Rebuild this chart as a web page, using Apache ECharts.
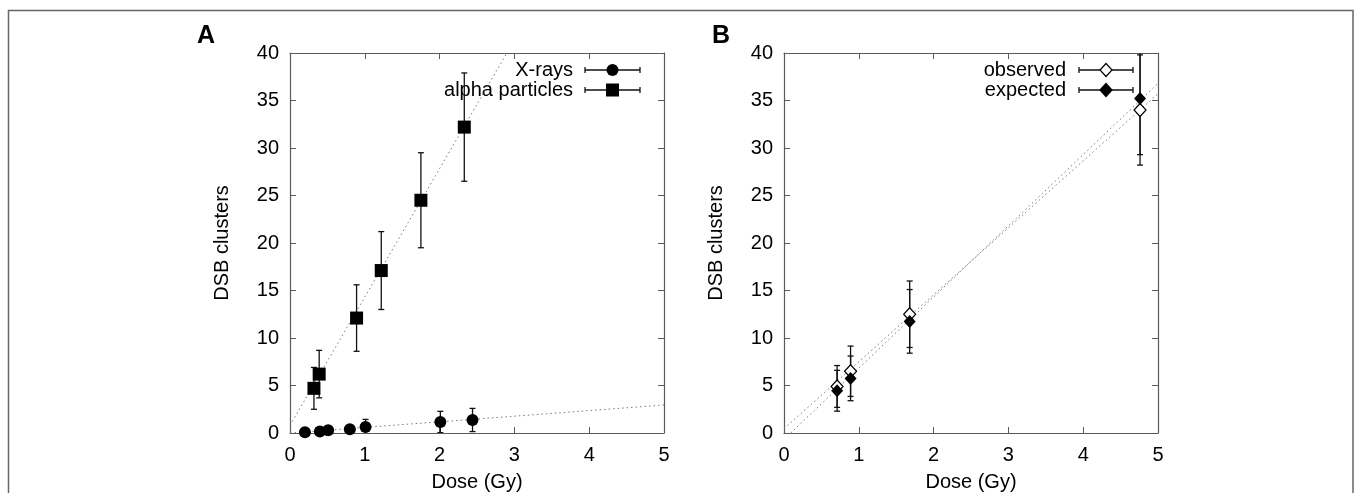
<!DOCTYPE html>
<html lang="en">
<head>
    <meta charset="UTF-8">
    <title>DSB clusters vs dose</title>
    <script src="https://cdn.jsdelivr.net/npm/echarts@6/dist/echarts.min.js"></script>
    <style>
        html, body { margin: 0; padding: 0; background: #fff; }
    </style>
</head>
<body>
    <div id="dv" style="width:1356px;height:493px;"></div>
</body>
<script>
   var myChart = echarts.init(document.getElementById('dv'))

   // panel A - X-rays
   let xrayDose = [0.2, 0.4, 0.51, 0.8, 1.01, 2.01, 2.44];
   let xrayDsb  = [0.08, 0.15, 0.28, 0.39, 0.63, 1.16, 1.37];
   let xrayErr  = [0.1, 0.15, 0.2, 0.3, 0.8, 1.12, 1.22];
   // panel A - alpha particles
   let alphaDose = [0.32, 0.39, 0.89, 1.22, 1.75, 2.33];
   let alphaDsb  = [4.7, 6.2, 12.1, 17.1, 24.5, 32.2];
   let alphaErr  = [2.2, 2.5, 3.5, 4.1, 5.0, 5.7];
   // panel B
   let obsDose = [0.71, 0.89, 1.68, 4.76];
   let obsDsb  = [4.9, 6.5, 12.5, 34.0];
   let obsErr  = [2.2, 2.65, 3.5, 5.8];
   let expDose = [0.71, 0.89, 1.68, 4.76];
   let expDsb  = [4.45, 5.75, 11.75, 35.2];
   let expErr  = [2.15, 2.35, 3.35, 5.9];
   // fitted lines (end points)
   let xrayFit  = [[0, 0.0], [5, 2.95]];
   let alphaFit = [[0, 0.8], [2.9, 40]];
   let obsFit   = [[0.09, 0], [5, 36.8]];
   let expFit   = [[0, 0.45], [5, 35.7]];

   let font = 'Liberation Sans';
   let fs = 20;
   let frame = '#5a5a5a';
   let ink = '#000';

   function pts(xs, ys, es) {
       return xs.map((x, i) => es ? [x, ys[i], es[i]] : [x, ys[i]]);
   }

   function errorBars(params, api) {
       let x = api.value(0), y = api.value(1), e = api.value(2);
       let t = api.coord([x, y + e]);
       let b = api.coord([x, y - e]);
       let w = 3;
       let st = { stroke: '#111', lineWidth: 1.3 };
       return {
           type: 'group',
           children: [
               { type: 'line', shape: { x1: t[0], y1: t[1], x2: b[0], y2: b[1] }, style: st },
               { type: 'line', shape: { x1: t[0] - w, y1: t[1], x2: t[0] + w, y2: t[1] }, style: st },
               { type: 'line', shape: { x1: b[0] - w, y1: b[1], x2: b[0] + w, y2: b[1] }, style: st }
           ]
       };
   }

   function xAx(gi, top) {
       return {
           type: 'value', gridIndex: gi, min: 0, max: 5, interval: 1,
           position: top ? 'top' : 'bottom',
           name: top ? '' : 'Dose (Gy)', nameLocation: 'middle', nameGap: 39,
           nameTextStyle: { fontFamily: font, fontSize: fs, color: ink },
           axisLine: { show: true, onZero: false, lineStyle: { color: frame, width: 1.2 } },
           axisTick: { show: true, inside: true, length: 6, lineStyle: { color: frame } },
           axisLabel: { show: !top, margin: 12, fontFamily: font, fontSize: fs, color: ink },
           splitLine: { show: false }
       };
   }
   function yAx(gi, right) {
       return {
           type: 'value', gridIndex: gi, min: 0, max: 40, interval: 5,
           position: right ? 'right' : 'left',
           name: right ? '' : 'DSB clusters', nameLocation: 'middle', nameGap: 58, nameRotate: 90,
           nameTextStyle: { fontFamily: font, fontSize: fs, color: ink },
           axisLine: { show: true, onZero: false, lineStyle: { color: frame, width: 1.2 } },
           axisTick: { show: true, inside: true, length: 6, lineStyle: { color: frame } },
           axisLabel: { show: !right, margin: 11, fontFamily: font, fontSize: fs, color: ink },
           splitLine: { show: false }
       };
   }

   let dotted = { color: '#7a7a7a', width: 1, type: [1.5, 3] };

   function fitLine(data, ai) {
       return {
           type: 'line', xAxisIndex: ai, yAxisIndex: ai, data: data,
           symbol: 'none', silent: true, lineStyle: dotted, z: 1
       };
   }
   function bars(data, ai) {
       return {
           type: 'custom', xAxisIndex: ai, yAxisIndex: ai, data: data,
           renderItem: errorBars, clip: true, silent: true, z: 2
       };
   }

   // legend sample: error bar line with caps and a marker in the middle
   function legendRow(tx, x1, x2, y, text, marker) {
       let st = { stroke: '#111', lineWidth: 1.3 };
       let mx = (x1 + x2) / 2;
       return [
           { type: 'text', x: tx, y: y, style: { text: text, fontFamily: font, fontSize: fs, fill: ink, align: 'right', verticalAlign: 'middle' } },
           { type: 'line', shape: { x1: x1, y1: y, x2: x2, y2: y }, style: st },
           { type: 'line', shape: { x1: x1, y1: y - 3, x2: x1, y2: y + 3 }, style: st },
           { type: 'line', shape: { x1: x2, y1: y - 3, x2: x2, y2: y + 3 }, style: st },
           Object.assign({ z: 10 }, marker(mx, y))
       ];
   }
   let circleM = (x, y) => ({ type: 'circle', shape: { cx: x, cy: y, r: 6 }, style: { fill: ink } });
   let squareM = (x, y) => ({ type: 'rect', shape: { x: x - 6.5, y: y - 6.5, width: 13, height: 13 }, style: { fill: ink } });
   let diamondM = (fill) => (x, y) => ({
       type: 'polygon', shape: { points: [[x, y - 6.5], [x + 6, y], [x, y + 6.5], [x - 6, y]] },
       style: { fill: fill, stroke: ink, lineWidth: 1.2 }
   });

   let graphics = [
       { type: 'polyline', shape: { points: [[8.5, 493], [8.5, 10.5], [1353, 10.5], [1353, 493]] },
         style: { stroke: '#666', lineWidth: 1.5, fill: null } },
       { type: 'text', x: 197, y: 36, style: { text: 'A', fontFamily: font, fontSize: 25, fontWeight: 'bold', fill: ink, verticalAlign: 'middle' } },
       { type: 'text', x: 712, y: 36, style: { text: 'B', fontFamily: font, fontSize: 25, fontWeight: 'bold', fill: ink, verticalAlign: 'middle' } }
   ].concat(
       legendRow(573, 585, 640, 70, 'X-rays', circleM),
       legendRow(573, 585, 640, 90, 'alpha particles', squareM),
       legendRow(1066, 1079, 1133, 70, 'observed', diamondM('#fff')),
       legendRow(1066, 1079, 1133, 90, 'expected', diamondM(ink))
   );

   option = {
       backgroundColor: '#fff',
       animation: false,
       grid: [
           { left: 290, top: 53, width: 374, height: 380, outerBoundsMode: 'none' },
           { left: 784, top: 53, width: 374, height: 380, outerBoundsMode: 'none' }
       ],
       xAxis: [xAx(0, false), xAx(1, false), xAx(0, true), xAx(1, true)],
       yAxis: [yAx(0, false), yAx(1, false), yAx(0, true), yAx(1, true)],
       graphic: graphics,
       series: [
           fitLine(xrayFit, 0),
           fitLine(alphaFit, 0),
           fitLine(obsFit, 1),
           fitLine(expFit, 1),
           bars(pts(xrayDose, xrayDsb, xrayErr), 0),
           bars(pts(alphaDose, alphaDsb, alphaErr), 0),
           bars(pts(obsDose, obsDsb, obsErr), 1),
           bars(pts(expDose, expDsb, expErr), 1),
           {
               name: 'X-rays', type: 'scatter', xAxisIndex: 0, yAxisIndex: 0,
               data: pts(xrayDose, xrayDsb), symbol: 'circle', symbolSize: 12,
               itemStyle: { color: ink, opacity: 1 }, z: 5
           },
           {
               name: 'alpha particles', type: 'scatter', xAxisIndex: 0, yAxisIndex: 0,
               data: pts(alphaDose, alphaDsb), symbol: 'rect', symbolSize: 13,
               itemStyle: { color: ink, opacity: 1 }, z: 5
           },
           {
               name: 'observed', type: 'scatter', xAxisIndex: 1, yAxisIndex: 1,
               data: pts(obsDose, obsDsb), symbol: 'diamond', symbolSize: [12, 13],
               itemStyle: { color: '#fff', borderColor: ink, borderWidth: 1.2, opacity: 1 }, z: 5
           },
           {
               name: 'expected', type: 'scatter', xAxisIndex: 1, yAxisIndex: 1,
               data: pts(expDose, expDsb), symbol: 'diamond', symbolSize: [12, 13],
               itemStyle: { color: ink, opacity: 1 }, z: 6
           }
       ]
   }
   myChart.setOption(option)
</script>
</html>
